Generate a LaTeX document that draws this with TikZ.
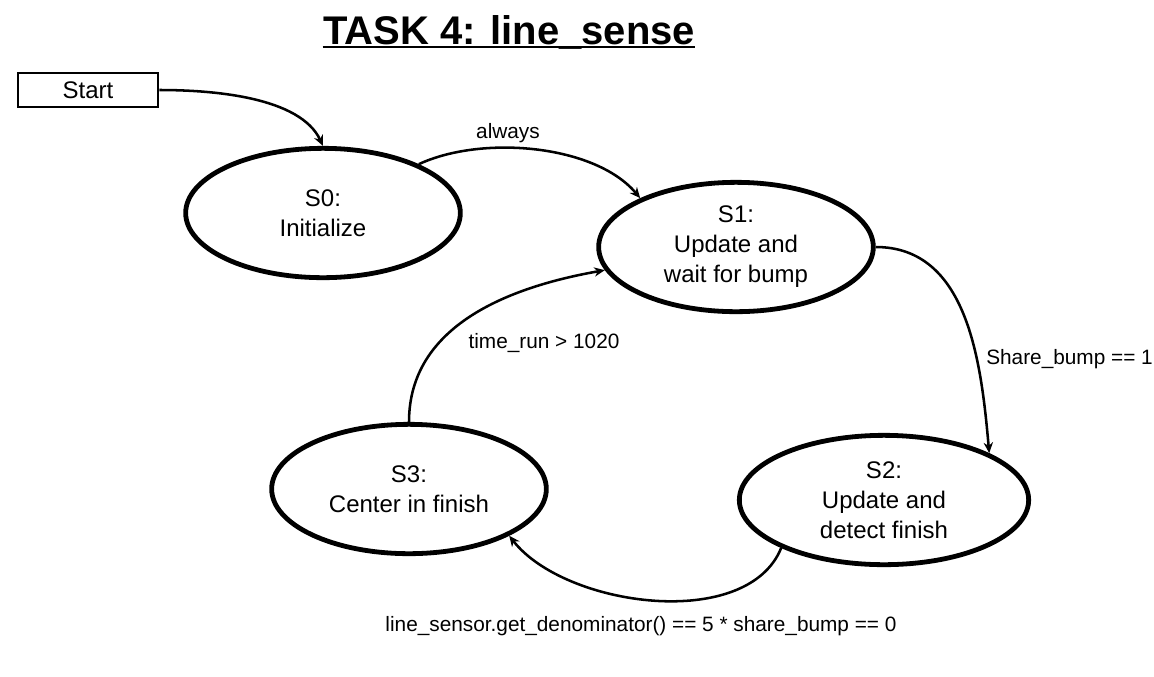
\documentclass[tikz,border=0pt]{standalone}
\usepackage{fontspec}
\setmainfont{Liberation Sans}
\usetikzlibrary{arrows.meta,positioning,shapes.geometric}

\begin{document}
\begin{tikzpicture}[x=0.75pt,y=-0.75pt,
  stnode/.style={ellipse,draw,line width=3.6pt,minimum width=206pt,minimum height=97pt,inner sep=0pt,align=center,font=\fontsize{18}{22.5}\selectfont},
  edge/.style={-{Stealth[length=8pt,width=7pt]},line width=1.9pt},
  lbl/.style={font=\fontsize{15.6}{18}\selectfont,inner sep=0pt}]
\useasboundingbox (0,0) rectangle (1154,676);

% title
\node[anchor=base,inner sep=0pt,font=\fontsize{30}{36}\selectfont\bfseries] (title) at (509,44) {TASK 4: line\_sense};
\draw[line width=1.4pt] ([yshift=-2pt]title.base west) -- ([yshift=-2pt]title.base east);

% states
\node[draw,line width=2.2pt,minimum width=105pt,minimum height=25.5pt,inner sep=0pt,font=\fontsize{18}{22.5}\selectfont] (start) at (88,90) {Start};
\node[stnode] (s0) at (323,213) {S0:\\Initialize};
\node[stnode] (s1) at (736,247) {S1:\\Update and\\wait for bump};
\node[stnode,minimum width=217pt] (s2) at (884,500) {S2:\\Update and\\detect finish};
\node[stnode] (s3) at (409,489) {S3:\\Center in finish};

% transitions
\draw[edge] (start.east) to[out=0,in=115,looseness=0.8] (s0.north);
\draw[edge] (s0.27) to[out=25,in=130,looseness=0.8] (s1.153);
\draw[edge] (s1.east) to[out=0,in=95] (s2.24);
\draw[edge] (s2.205) to[out=-112,in=-52,looseness=0.85] (s3.335);
\draw[edge] (s3.north) to[out=90,in=190] (s1.190);

% conditions
\node[lbl] (lalways) at (508,133) {always};
\node[lbl,anchor=west] (lbump) at (986,359) {Share\_bump == 1};
\node[lbl] (ltime) at (544,343) {time\_run > 1020};
\node[lbl] (lfinish) at (641,626) {line\_sensor.get\_denominator() == 5 * share\_bump == 0};
\end{tikzpicture}
\end{document}
